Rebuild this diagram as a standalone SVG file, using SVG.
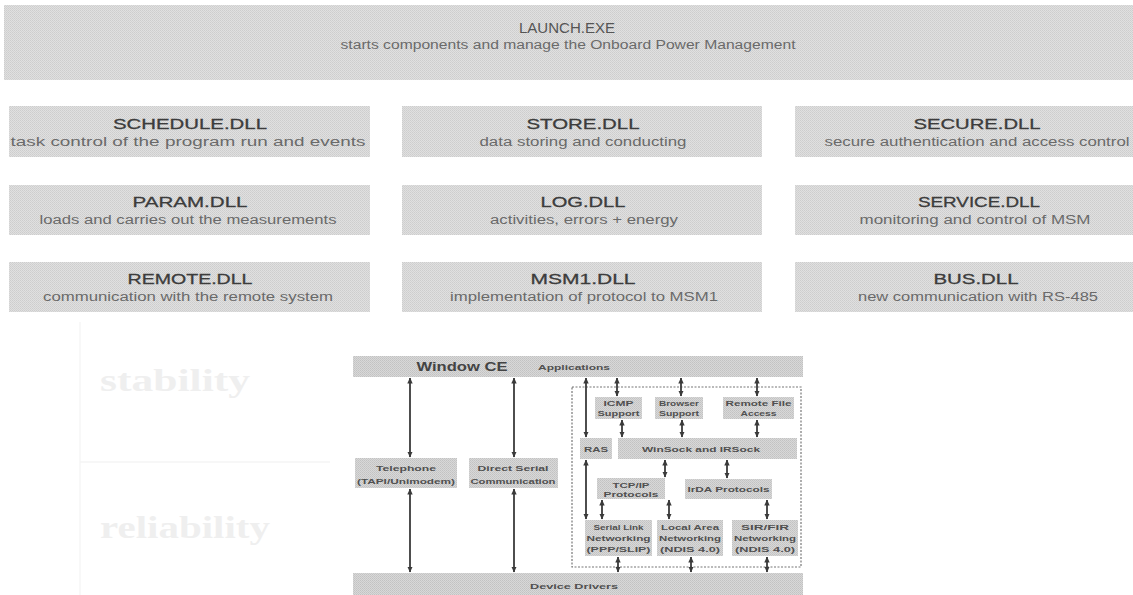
<svg xmlns="http://www.w3.org/2000/svg" width="1133" height="595" viewBox="0 0 1133 595">
<defs>
<pattern id="dither" width="2" height="2" patternUnits="userSpaceOnUse">
<rect width="2" height="2" fill="#e0e0e0"/>
<rect width="1" height="1" fill="#cdcdcd"/>
<rect x="1" y="1" width="1" height="1" fill="#d2d2d2"/>
</pattern>
<pattern id="dither2" width="2" height="2" patternUnits="userSpaceOnUse">
<rect width="2" height="2" fill="#d8d8d8"/>
<rect width="1" height="1" fill="#c2c2c2"/>
<rect x="1" y="1" width="1" height="1" fill="#c8c8c8"/>
</pattern>
<marker id="ah" viewBox="0 0 6 6" refX="5.5" refY="3" markerWidth="6" markerHeight="6" markerUnits="userSpaceOnUse" orient="auto-start-reverse">
<path d="M0,0.3 L6,3 L0,5.7 z" fill="#3a3a3a"/>
</marker>
<style>
.box{fill:url(#dither);}
.bar{fill:url(#dither2);}
.ibox{fill:url(#dither2);}
.t{font-family:"Liberation Sans",Arial,sans-serif;font-size:15px;fill:#3c3c3c;stroke:#3c3c3c;stroke-width:0.3;text-anchor:middle;}
.s{font-family:"Liberation Sans",Arial,sans-serif;font-size:12px;fill:#6a6a6a;text-anchor:middle;}
.lt{font-family:"Liberation Sans",Arial,sans-serif;font-size:15px;fill:#555;text-anchor:middle;}
.i{font-family:"Liberation Sans",Arial,sans-serif;font-size:8px;font-weight:bold;fill:#505050;text-anchor:middle;}
.wce{font-family:"Liberation Sans",Arial,sans-serif;font-size:13px;font-weight:bold;fill:#444;text-anchor:middle;}
.ghost{font-family:"Liberation Serif","Times New Roman",serif;font-size:32px;font-weight:bold;fill:#efefef;}
.arr{stroke:#3a3a3a;stroke-width:1.8;fill:none;marker-start:url(#ah);marker-end:url(#ah);}
.dash{fill:none;stroke:#777;stroke-width:1.2;stroke-dasharray:2 1.5;}
</style>
</defs>
<rect width="1133" height="595" fill="#ffffff"/>

<g id="ghost-bg">
<line x1="80" y1="322" x2="80" y2="595" stroke="#f6f6f6" stroke-width="1.5"/>
<line x1="80" y1="462" x2="330" y2="462" stroke="#f4f4f4" stroke-width="1.5"/>
<text class="ghost" x="100" y="391" textLength="150" lengthAdjust="spacingAndGlyphs">stability</text>
<text class="ghost" x="100" y="538" textLength="170" lengthAdjust="spacingAndGlyphs">reliability</text>
</g>

<g id="launch">
<rect class="box" x="4" y="5" width="1129" height="75"/>
<text class="lt" x="567" y="33" textLength="96" lengthAdjust="spacingAndGlyphs">LAUNCH.EXE</text>
<text class="s" x="568" y="49" textLength="455" lengthAdjust="spacingAndGlyphs">starts components and manage the Onboard Power Management</text>
</g>

<g id="schedule">
<rect class="box" x="9" y="106" width="361" height="51"/>
<text class="t" x="190" y="129" textLength="154" lengthAdjust="spacingAndGlyphs">SCHEDULE.DLL</text>
<text class="s" x="188" y="146" textLength="355" lengthAdjust="spacingAndGlyphs">task control of  the program run and events</text>
</g>
<g id="store">
<rect class="box" x="402" y="106" width="360" height="51"/>
<text class="t" x="583" y="129" textLength="113" lengthAdjust="spacingAndGlyphs">STORE.DLL</text>
<text class="s" x="583" y="146" textLength="207" lengthAdjust="spacingAndGlyphs">data storing and conducting</text>
</g>
<g id="secure">
<rect class="box" x="795" y="106" width="338" height="51"/>
<text class="t" x="977" y="129" textLength="127" lengthAdjust="spacingAndGlyphs">SECURE.DLL</text>
<text class="s" x="977" y="146" textLength="305" lengthAdjust="spacingAndGlyphs">secure authentication and access control</text>
</g>

<g id="param">
<rect class="box" x="9" y="185" width="361" height="50"/>
<text class="t" x="190" y="207" textLength="115" lengthAdjust="spacingAndGlyphs">PARAM.DLL</text>
<text class="s" x="188" y="224" textLength="297" lengthAdjust="spacingAndGlyphs">loads and carries out the measurements</text>
</g>
<g id="log">
<rect class="box" x="402" y="185" width="360" height="50"/>
<text class="t" x="583" y="207" textLength="85" lengthAdjust="spacingAndGlyphs">LOG.DLL</text>
<text class="s" x="584" y="224" textLength="188" lengthAdjust="spacingAndGlyphs">activities, errors + energy</text>
</g>
<g id="service">
<rect class="box" x="795" y="185" width="338" height="50"/>
<text class="t" x="979" y="207" textLength="122" lengthAdjust="spacingAndGlyphs">SERVICE.DLL</text>
<text class="s" x="975" y="224" textLength="231" lengthAdjust="spacingAndGlyphs">monitoring and control of MSM</text>
</g>

<g id="remote">
<rect class="box" x="9" y="262" width="361" height="50"/>
<text class="t" x="190" y="284" textLength="125" lengthAdjust="spacingAndGlyphs">REMOTE.DLL</text>
<text class="s" x="188" y="301" textLength="290" lengthAdjust="spacingAndGlyphs">communication with the remote system</text>
</g>
<g id="msm1">
<rect class="box" x="402" y="262" width="360" height="50"/>
<text class="t" x="583" y="284" textLength="105" lengthAdjust="spacingAndGlyphs">MSM1.DLL</text>
<text class="s" x="584" y="301" textLength="268" lengthAdjust="spacingAndGlyphs">implementation of protocol to MSM1</text>
</g>
<g id="bus">
<rect class="box" x="795" y="262" width="338" height="50"/>
<text class="t" x="976" y="284" textLength="85" lengthAdjust="spacingAndGlyphs">BUS.DLL</text>
<text class="s" x="978" y="301" textLength="240" lengthAdjust="spacingAndGlyphs">new communication with RS-485</text>
</g>

<g id="wince">
<g id="windowce-bar">
<rect class="bar" x="353" y="356" width="450" height="21"/>
<text class="wce" x="462" y="371" textLength="91" lengthAdjust="spacingAndGlyphs">Window CE</text>
<text class="i" x="574" y="369.5" textLength="72" lengthAdjust="spacingAndGlyphs">Applications</text>
</g>
<g id="telephone">
<rect class="ibox" x="355" y="458" width="102" height="30"/>
<text class="i" x="406" y="471" textLength="60" lengthAdjust="spacingAndGlyphs">Telephone</text>
<text class="i" x="406" y="484" textLength="98" lengthAdjust="spacingAndGlyphs">(TAPI/Unimodem)</text>
</g>
<g id="directserial">
<rect class="ibox" x="469" y="458" width="89" height="30"/>
<text class="i" x="513" y="471" textLength="71" lengthAdjust="spacingAndGlyphs">Direct Serial</text>
<text class="i" x="513" y="484" textLength="85" lengthAdjust="spacingAndGlyphs">Communication</text>
</g>
<g id="network-frame">
<rect class="dash" x="572" y="387" width="229" height="180"/>
</g>
<g id="icmp">
<rect class="ibox" x="595" y="397" width="47" height="22"/>
<text class="i" x="618.5" y="406" textLength="30" lengthAdjust="spacingAndGlyphs">ICMP</text>
<text class="i" x="618.5" y="416" textLength="42" lengthAdjust="spacingAndGlyphs">Support</text>
</g>
<g id="browser">
<rect class="ibox" x="655" y="397" width="48" height="22"/>
<text class="i" x="679" y="406" textLength="40" lengthAdjust="spacingAndGlyphs">Browser</text>
<text class="i" x="679" y="416" textLength="40" lengthAdjust="spacingAndGlyphs">Support</text>
</g>
<g id="remotefile">
<rect class="ibox" x="723" y="397" width="71" height="22"/>
<text class="i" x="758.5" y="406" textLength="66" lengthAdjust="spacingAndGlyphs">Remote File</text>
<text class="i" x="758.5" y="416" textLength="36" lengthAdjust="spacingAndGlyphs">Access</text>
</g>
<g id="ras">
<rect class="ibox" x="580" y="438" width="32" height="21"/>
<text class="i" x="596" y="451.5" textLength="24" lengthAdjust="spacingAndGlyphs">RAS</text>
</g>
<g id="winsock">
<rect class="ibox" x="618" y="438" width="179" height="21"/>
<text class="i" x="701" y="451.5" textLength="118" lengthAdjust="spacingAndGlyphs">WinSock and IRSock</text>
</g>
<g id="tcpip">
<rect class="ibox" x="597" y="478" width="68" height="21"/>
<text class="i" x="631" y="487.5" textLength="37" lengthAdjust="spacingAndGlyphs">TCP/IP</text>
<text class="i" x="631" y="497" textLength="55" lengthAdjust="spacingAndGlyphs">Protocols</text>
</g>
<g id="irda">
<rect class="ibox" x="685" y="479" width="87" height="20"/>
<text class="i" x="728.5" y="492" textLength="82" lengthAdjust="spacingAndGlyphs">IrDA Protocols</text>
</g>
<g id="seriallink">
<rect class="ibox" x="585" y="520" width="67" height="36"/>
<text class="i" x="618.5" y="530" textLength="50" lengthAdjust="spacingAndGlyphs">Serial Link</text>
<text class="i" x="618.5" y="541" textLength="64" lengthAdjust="spacingAndGlyphs">Networking</text>
<text class="i" x="618.5" y="552" textLength="64" lengthAdjust="spacingAndGlyphs">(PPP/SLIP)</text>
</g>
<g id="localarea">
<rect class="ibox" x="657" y="520" width="66" height="36"/>
<text class="i" x="690" y="530" textLength="58" lengthAdjust="spacingAndGlyphs">Local Area</text>
<text class="i" x="690" y="541" textLength="62" lengthAdjust="spacingAndGlyphs">Networking</text>
<text class="i" x="690" y="552" textLength="60" lengthAdjust="spacingAndGlyphs">(NDIS 4.0)</text>
</g>
<g id="sirfir">
<rect class="ibox" x="732" y="520" width="66" height="36"/>
<text class="i" x="765" y="530" textLength="48" lengthAdjust="spacingAndGlyphs">SIR/FIR</text>
<text class="i" x="765" y="541" textLength="62" lengthAdjust="spacingAndGlyphs">Networking</text>
<text class="i" x="765" y="552" textLength="60" lengthAdjust="spacingAndGlyphs">(NDIS 4.0)</text>
</g>
<g id="devicedrivers">
<rect class="bar" x="353" y="573" width="450" height="22"/>
<text class="i" x="574" y="589" textLength="88" lengthAdjust="spacingAndGlyphs">Device Drivers</text>
</g>
</g>

<g id="connectors">
<line class="arr" x1="410" y1="378" x2="410" y2="457"/>
<line class="arr" x1="410" y1="489" x2="410" y2="572"/>
<line class="arr" x1="514" y1="378" x2="514" y2="457"/>
<line class="arr" x1="514" y1="489" x2="514" y2="572"/>
<line class="arr" x1="586" y1="378" x2="586" y2="437"/>
<line class="arr" x1="617" y1="378" x2="617" y2="396"/>
<line class="arr" x1="681" y1="378" x2="681" y2="396"/>
<line class="arr" x1="757" y1="378" x2="757" y2="396"/>
<line class="arr" x1="622" y1="420" x2="622" y2="437"/>
<line class="arr" x1="682" y1="420" x2="682" y2="437"/>
<line class="arr" x1="757" y1="420" x2="757" y2="437"/>
<line class="arr" x1="586" y1="460" x2="586" y2="519"/>
<line class="arr" x1="665" y1="460" x2="665" y2="477"/>
<line class="arr" x1="727" y1="460" x2="727" y2="478"/>
<line class="arr" x1="602" y1="500" x2="602" y2="519"/>
<line class="arr" x1="669" y1="500" x2="669" y2="519"/>
<line class="arr" x1="767" y1="500" x2="767" y2="519"/>
<line class="arr" x1="618" y1="557" x2="618" y2="572"/>
<line class="arr" x1="691" y1="557" x2="691" y2="572"/>
<line class="arr" x1="767" y1="557" x2="767" y2="572"/>
</g>
</svg>
